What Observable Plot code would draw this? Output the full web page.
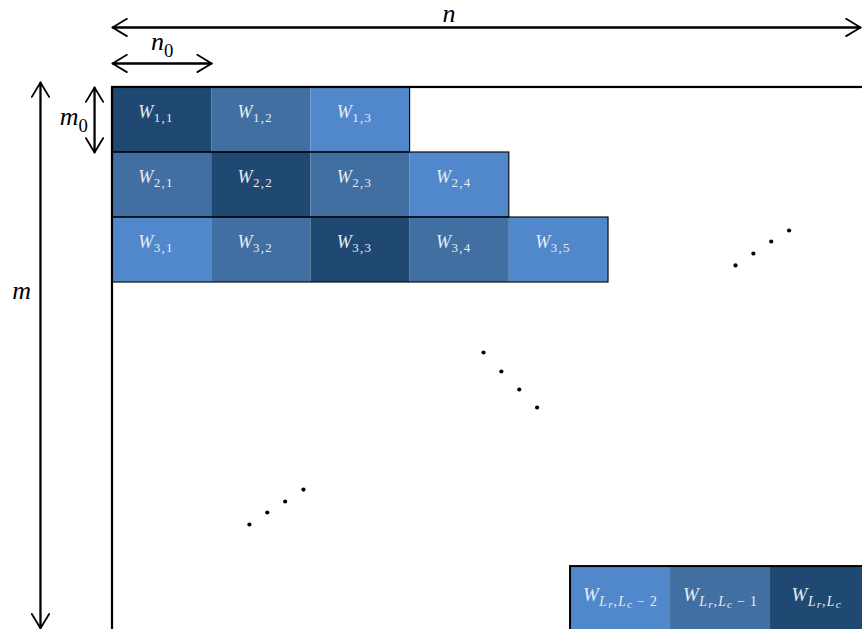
<!DOCTYPE html>
<html>
<head>
<meta charset="utf-8">
<script src="https://cdn.jsdelivr.net/npm/d3@7"></script>
<script src="https://cdn.jsdelivr.net/npm/@observablehq/plot@0.6"></script>
<style>
  html, body { margin: 0; padding: 0; background: white; overflow: hidden; }
  svg { overflow: hidden; display: block; }
</style>
</head>
<body>
<script>
// ---- data (in block units: columns of width n0, rows of height m0) ----
const cellRow   = [1, 1, 1, 2, 2, 2, 2, 3, 3, 3, 3, 3];
const cellCol   = [1, 2, 3, 1, 2, 3, 4, 1, 2, 3, 4, 5];
const cellShade = ["dark", "mid", "light", "mid", "dark", "mid", "light", "light", "mid", "dark", "mid", "light"];
const cellLabel = ["W_{1,1}", "W_{1,2}", "W_{1,3}", "W_{2,1}", "W_{2,2}", "W_{2,3}", "W_{2,4}",
                   "W_{3,1}", "W_{3,2}", "W_{3,3}", "W_{3,4}", "W_{3,5}"];
const rowBlock  = [1, 2, 3];
const rowEnd    = [3, 4, 5];

// last block row (L_r), partially visible at the lower right
const lastX1    = [4.617, 5.625, 6.633];
const lastX2    = [5.625, 6.633, 7.7];
const lastTop   = 7.37;
const lastBottom = 8.5;
const lastShade = ["light", "mid", "dark"];
const lastLabel = ["W_{L_r,L_c-2}", "W_{L_r,L_c-1}", "W_{L_r,L_c}"];

// whole matrix outline
const matrixX = [0, 7.7];
const matrixY = [0, 8.5];

// ellipsis dots
const dotsX = [6.28, 6.46, 6.64, 6.82, 3.74, 3.92, 4.10, 4.28, 1.38, 1.56, 1.74, 1.925];
const dotsY = [2.738, 2.554, 2.369, 2.20, 4.077, 4.369, 4.646, 4.923, 6.723, 6.538, 6.369, 6.185];

// dimension arrows
const hArrowY  = [-0.923, -0.369];
const hArrowX1 = [0, 0];
const hArrowX2 = [7.54, 1];
const vArrowX  = [-0.726, -0.181];
const vArrowY1 = [-0.077, 0];
const vArrowY2 = [8.32, 1];
const dimLabel = ["n", "n_0", "m", "m_0"];
const dimX     = [3.392, 0.50, -0.917, -0.39];
const dimY     = [-1.140, -0.70, 3.123, 0.446];

const shadeDomain = ["dark", "mid", "light"];
const shadeRange  = ["#1F4872", "#426FA1", "#5188CB"];

// ---- tables built from arrays ----
const cells = cellRow.map((r, i) => ({row: r, col: cellCol[i], shade: cellShade[i], label: cellLabel[i]}));
const rows = rowBlock.map((r, i) => ({row: r, end: rowEnd[i]}));
const last = lastX1.map((x1, i) => ({x1, x2: lastX2[i], shade: lastShade[i], label: lastLabel[i]}));
const dots = dotsX.map((x, i) => ({x, y: dotsY[i]}));
const arrows = [];
hArrowY.forEach((y, i) => {
  arrows.push({x1: hArrowX2[i], y1: y, x2: hArrowX1[i], y2: y});
  arrows.push({x1: hArrowX1[i], y1: y, x2: hArrowX2[i], y2: y});
});
vArrowX.forEach((x, i) => {
  arrows.push({x1: x, y1: vArrowY2[i], x2: x, y2: vArrowY1[i]});
  arrows.push({x1: x, y1: vArrowY1[i], x2: x, y2: vArrowY2[i]});
});
const dims = dimLabel.map((t, i) => ({t, x: dimX[i], y: dimY[i]}));

const plot = Plot.plot({
  width: 862,
  height: 629,
  margin: 0,
  x: {domain: [-1.129, 7.560], axis: null},
  y: {domain: [8.338, -1.338], axis: null},
  color: {domain: shadeDomain, range: shadeRange},
  style: {background: "white"},
  marks: [
    Plot.rect(cells, {x1: d => d.col - 1, x2: d => d.col, y1: d => d.row - 1, y2: d => d.row, fill: "shade"}),
    Plot.rect(rows, {x1: 0, x2: "end", y1: d => d.row - 1, y2: "row", fill: "none", stroke: "black", strokeWidth: 1.1}),
    Plot.rect([0], {x1: matrixX[0], x2: matrixX[1], y1: matrixY[0], y2: matrixY[1], fill: "none", stroke: "black", strokeWidth: 2.2}),
    Plot.rect(last, {x1: "x1", x2: "x2", y1: lastTop, y2: lastBottom, fill: "shade"}),
    Plot.rect([0], {x1: lastX1[0], x2: matrixX[1], y1: lastTop, y2: lastBottom, fill: "none", stroke: "black", strokeWidth: 2}),
    Plot.dot(dots, {x: "x", y: "y", r: 2.1, fill: "black", stroke: "none"}),
    Plot.arrow(arrows, {x1: "x1", y1: "y1", x2: "x2", y2: "y2", stroke: "black", strokeWidth: 1.8, headLength: 14, headAngle: 62}),
    Plot.text(cells, {x: d => d.col - 0.5, y: d => d.row - 0.5, text: "label", dx: -6, dy: -8, fill: "#E6ECF3", fontSize: 18, fontFamily: "Liberation Serif"}),
    Plot.text(last, {x: d => (d.x1 + Math.min(d.x2, 7.56)) / 2, y: lastTop + 0.5, text: "label", dx: 0, dy: -4, fill: "#E6ECF3", fontSize: 19, fontFamily: "Liberation Serif"}),
    Plot.text(dims, {x: "x", y: "y", text: "t", fill: "black", fontSize: 26, fontFamily: "Liberation Serif"})
  ]
});
document.body.appendChild(plot);

// ---- render TeX-like subscripts as tspans ----
function parseTex(s) {
  const segs = [];
  let i = 0;
  function push(ch, level) {
    const it = /[A-Za-z]/.test(ch);
    if (ch === "-") ch = "\u2009\u2212\u2009";
    const last = segs[segs.length - 1];
    if (last && last.level === level && last.italic === it) last.text += ch;
    else segs.push({text: ch, level, italic: it});
  }
  function rec(level) {
    while (i < s.length) {
      const ch = s[i];
      if (ch === "}") { i++; return; }
      if (ch === "_") {
        i++;
        if (s[i] === "{") { i++; rec(level + 1); }
        else { push(s[i], level + 1); i++; }
      } else { push(ch, level); i++; }
    }
  }
  rec(0);
  return segs;
}
plot.querySelectorAll("text").forEach(el => {
  const s = el.textContent;
  const fs = parseFloat(getComputedStyle(el).fontSize);
  const cell = fs < 20;
  const scale = cell ? [1, 0.72, 0.6] : [1, 0.72, 0.55];
  const shift = cell ? [0, 0.24, 0.38] : [0, 0.27, 0.42];
  const spacing = cell ? [0.5, 1.3, 0.8] : [0, 0, 0];
  const segs = parseTex(s);
  while (el.firstChild) el.removeChild(el.firstChild);
  let prev = 0;
  segs.forEach(seg => {
    const t = document.createElementNS("http://www.w3.org/2000/svg", "tspan");
    t.setAttribute("font-size", (fs * scale[seg.level]).toFixed(2));
    t.setAttribute("font-style", seg.italic ? "italic" : "normal");
    t.setAttribute("letter-spacing", spacing[seg.level]);
    const off = shift[seg.level] * fs;
    if (off !== prev) t.setAttribute("dy", (off - prev).toFixed(2));
    prev = off;
    t.textContent = seg.text;
    el.appendChild(t);
  });
});
</script>
</body>
</html>
